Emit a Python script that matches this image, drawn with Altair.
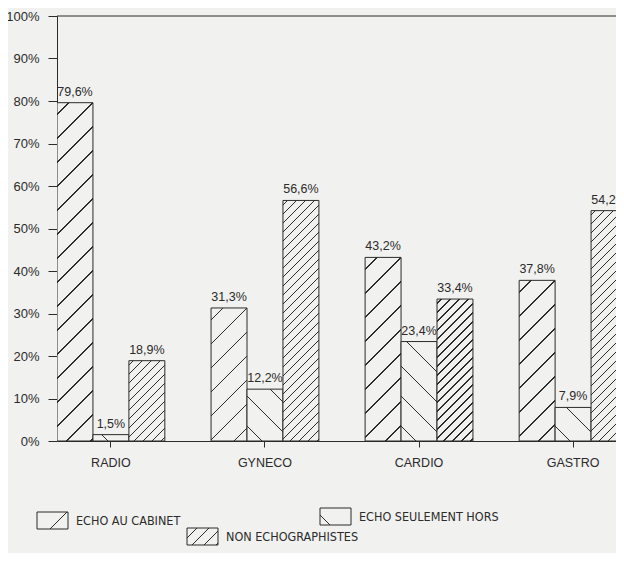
import math
import altair as alt
import pandas as pd

# ---- data ----
cats = ["RADIO", "GYNECO", "CARDIO", "GASTRO"]
series = ["ECHO AU CABINET", "ECHO SEULEMENT HORS", "NON ECHOGRAPHISTES"]
echo_cabinet = [79.6, 31.3, 43.2, 37.8]
echo_hors = [1.5, 12.2, 23.4, 7.9]
non_echo = [18.9, 56.6, 33.4, 54.2]

values = {series[0]: echo_cabinet, series[1]: echo_hors, series[2]: non_echo}
rows = []
for s in series:
    for c, v in zip(cats, values[s]):
        rows.append({"cat": c, "series": s, "value": v,
                     "label": f"{v:.1f}".replace(".", ",") + "%"})
df = pd.DataFrame(rows)

# ---- layout / style ----
W, H, XR = 559, 425, 570
PAD_IN = 0.3
step = XR / (len(cats) - PAD_IN)
barw = step * (1 - PAD_IN) / len(series)
BG = "#f1f1ef"
INK = "#2b2b2b"
FONT = "Liberation Sans"
NARROW = "DejaVu Sans Condensed, Liberation Sans"

pattern = {
    series[0]: ("/", 24, 1.1),
    series[1]: ("\\", 30, 1.1),
    series[2]: ("/", 9, 1.0),
}


def hatch(w, h, spacing, direction, offset=None, lw=1.1):
    L = w + h
    r = w / h
    b = (1 + r) / (1 + r * r)
    a = r * b
    if offset is None:
        offset = spacing / 2
    half = lw * math.sqrt(2) / 2
    stops = [{"offset": 0, "color": BG}]
    p = offset
    while p < L:
        t0 = round(max(0.0, (p - half) / L), 5)
        t1 = round(min(1.0, (p + half) / L), 5)
        stops += [{"offset": t0, "color": BG}, {"offset": t0, "color": INK},
                  {"offset": t1, "color": INK}, {"offset": t1, "color": BG}]
        p += spacing
    stops.append({"offset": 1, "color": BG})
    if direction == "/":
        g = dict(x1=0, y1=0, x2=round(a, 5), y2=round(b, 5))
    else:
        g = dict(x1=0, y1=1, x2=round(a, 5), y2=round(1 - b, 5))
    return {"gradient": "linear", "stops": stops, **g}


xsc = alt.Scale(domain=cats, range=[0, XR], paddingInner=PAD_IN, paddingOuter=0)
xoff = alt.Scale(domain=series, paddingInner=0, paddingOuter=0)
ysc = alt.Scale(domain=[0, 100], nice=False)

X = alt.X("cat:N", scale=xsc, sort=cats,
          axis=alt.Axis(title=None, labelAngle=0, tickSize=6, labelPadding=9,
                        labelFontSize=12.5, labelFont=FONT, labelColor=INK,
                        domainColor=INK, tickColor=INK, grid=False))
XO = alt.XOffset("series:N", scale=xoff, sort=series)
Y = alt.Y("value:Q", scale=ysc,
          axis=alt.Axis(title=None, values=list(range(0, 101, 10)),
                        labelExpr="datum.value + '%'", tickSize=9, labelPadding=9,
                        labelFontSize=13, labelFont=FONT, labelColor=INK,
                        domainColor=INK, tickColor=INK, grid=False))

layers = []
for s in series:
    d, sp, lw = pattern[s]
    for c, v in zip(cats, values[s]):
        h = v / 100 * H
        sub = df[(df.cat == c) & (df.series == s)]
        layers.append(
            alt.Chart(sub).mark_bar(fill=hatch(barw, h, sp, d, lw=lw), stroke=INK,
                                    strokeWidth=1, clip=True)
            .encode(x=X, xOffset=XO, y=Y)
        )

labels = alt.Chart(df).mark_text(dy=-7, baseline="alphabetic", fontSize=12.5,
                                 font=FONT, color=INK).encode(
    x=X, xOffset=XO, y=Y, text="label:N")

top_rule = alt.Chart(pd.DataFrame({"v": [100]})).mark_rule(color=INK, strokeWidth=1).encode(
    y=alt.datum(100), x=alt.value(0), x2=alt.value(W))

# manual legend (staggered as in the original)
leg_pos = {
    series[0]: (-20, 496, "/", 24, 30),
    series[1]: (263, 492, "\\", 40, 10),
    series[2]: (130, 512, "/", 12, 10),
}
legend_layers = []
for s in series:
    lx, ly, d, sp, off = leg_pos[s]
    one = pd.DataFrame({"name": [s]})
    legend_layers.append(
        alt.Chart(one).mark_rect(fill=hatch(31, 17, sp, d, offset=off, lw=1.0),
                                 stroke=INK, strokeWidth=1)
        .encode(x=alt.value(lx), x2=alt.value(lx + 31), y=alt.value(ly), y2=alt.value(ly + 17))
    )
    legend_layers.append(
        alt.Chart(one).mark_text(align="left", baseline="middle", fontSize=12.5,
                                 font=NARROW, color=INK)
        .encode(x=alt.value(lx + 39), y=alt.value(ly + 9), text="name:N")
    )

chart = alt.layer(*layers, labels, top_rule, *legend_layers).properties(
    width=W, height=H,
    autosize=alt.AutoSizeParams(type="none"),
    padding={"left": 49, "top": 8, "right": 0, "bottom": 112},
    background=BG,
).configure_view(stroke=None)

chart.save("out.html", embed_options={"renderer": "svg", "actions": False})
